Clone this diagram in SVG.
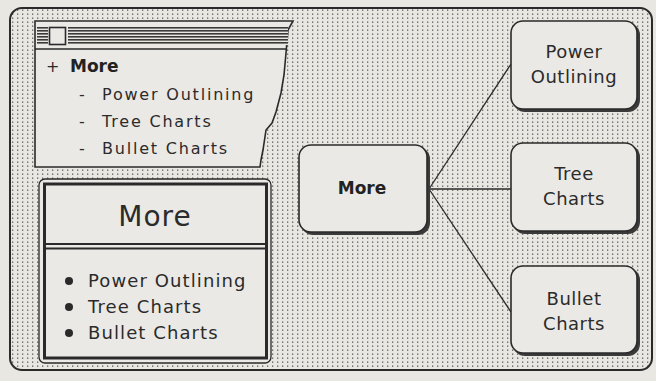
<svg xmlns="http://www.w3.org/2000/svg" width="656" height="381" viewBox="0 0 656 381">
<defs>
<pattern id="dots" width="5" height="4" patternUnits="userSpaceOnUse">
<rect width="5" height="4" fill="#e9e7e2"/>
<rect x="2" y="1.5" width="1.3" height="1.3" fill="#5a5a5a"/>
</pattern>
<pattern id="stripes" width="4" height="3" patternUnits="userSpaceOnUse">
<rect width="4" height="3" fill="#e9e7e2"/>
<rect width="4" height="1.6" fill="#3a3a3a"/>
</pattern>
</defs>
<style>
.node{fill:#ebe9e5;stroke:#2a2a2a;stroke-width:1.6}
.shadow{fill:#3a3a3a}
.lbl{font-family:"DejaVu Sans",sans-serif;font-size:18px;fill:#2b2b2b;text-anchor:middle;letter-spacing:0.5px}
.bold{font-family:"DejaVu Sans",sans-serif;font-weight:bold;font-size:17px;fill:#222}
.wtxt{font-family:"DejaVu Sans",sans-serif;font-size:16px;fill:#2b2b2b;letter-spacing:1.8px}
.btxt{font-family:"DejaVu Sans",sans-serif;font-size:18px;fill:#2b2b2b;letter-spacing:1.1px}
.conn{stroke:#2a2a2a;stroke-width:1.3;fill:none}
</style>
<rect width="656" height="381" fill="#e9e7e2"/>
<rect id="frame" x="10" y="8" width="642" height="362" rx="12" fill="url(#dots)" stroke="#2a2a2a" stroke-width="2"/>

<g id="connectors">
<line class="conn" x1="429" y1="189" x2="511" y2="64"/>
<line class="conn" x1="429" y1="189" x2="511" y2="189"/>
<line class="conn" x1="429" y1="189" x2="511" y2="312"/>
</g>

<g id="outline-window">
<polygon points="35,21 293,21 288,30 286,53 284,75 281,93 276,112 272,123 266,130 263,150 261,160 260,167 35,167" fill="#ebe9e5" stroke="#2a2a2a" stroke-width="1.6"/>
<rect x="37" y="27" width="11" height="18" fill="url(#stripes)"/>
<rect x="68" y="27" width="220" height="18" fill="url(#stripes)"/>
<rect x="49.5" y="27.5" width="16" height="17" fill="#ebe9e5" stroke="#2a2a2a" stroke-width="1.6"/>
<line x1="35" y1="49" x2="286" y2="49" stroke="#2a2a2a" stroke-width="1.6"/>
<text x="46" y="72" class="wtxt" style="letter-spacing:0">+</text>
<text x="70" y="72" class="bold">More</text>
<text x="79" y="100" class="wtxt">-</text>
<text x="102" y="100" class="wtxt">Power Outlining</text>
<text x="79" y="127" class="wtxt">-</text>
<text x="102" y="127" class="wtxt">Tree Charts</text>
<text x="79" y="154" class="wtxt">-</text>
<text x="102" y="154" class="wtxt">Bullet Charts</text>
</g>

<g id="bullet-box">
<rect x="39" y="179" width="232" height="184" rx="6" fill="#ebe9e5" stroke="#2a2a2a" stroke-width="1.3"/>
<rect x="44.5" y="184" width="222" height="174" fill="#ebe9e5" stroke="#2a2a2a" stroke-width="3"/>
<line x1="44" y1="244" x2="267" y2="244" stroke="#2a2a2a" stroke-width="2"/>
<line x1="44" y1="248.5" x2="267" y2="248.5" stroke="#2a2a2a" stroke-width="2"/>
<text x="155" y="226" class="lbl" style="font-size:28px;letter-spacing:1px">More</text>
<circle cx="69" cy="281" r="4" fill="#2a2a2a"/>
<text x="88" y="287" class="btxt">Power Outlining</text>
<circle cx="69" cy="307" r="4" fill="#2a2a2a"/>
<text x="88" y="313" class="btxt">Tree Charts</text>
<circle cx="69" cy="333" r="4" fill="#2a2a2a"/>
<text x="88" y="339" class="btxt">Bullet Charts</text>
</g>

<g id="node-more">
<rect class="shadow" x="301" y="147" width="129" height="88" rx="12"/>
<rect class="node" x="299" y="145" width="128" height="87" rx="12"/>
<text x="362" y="194" class="bold" text-anchor="middle">More</text>
</g>

<g id="node-power">
<rect class="shadow" x="513" y="23" width="127" height="89" rx="12"/>
<rect class="node" x="511" y="21" width="126" height="88" rx="12"/>
<text x="574" y="58" class="lbl">Power</text>
<text x="574" y="83" class="lbl">Outlining</text>
</g>

<g id="node-tree">
<rect class="shadow" x="513" y="145" width="127" height="89" rx="12"/>
<rect class="node" x="511" y="143" width="126" height="88" rx="12"/>
<text x="574" y="180" class="lbl">Tree</text>
<text x="574" y="205" class="lbl">Charts</text>
</g>

<g id="node-bullet">
<rect class="shadow" x="513" y="268" width="127" height="88" rx="12"/>
<rect class="node" x="511" y="266" width="126" height="87" rx="12"/>
<text x="574" y="305" class="lbl">Bullet</text>
<text x="574" y="330" class="lbl">Charts</text>
</g>
</svg>
